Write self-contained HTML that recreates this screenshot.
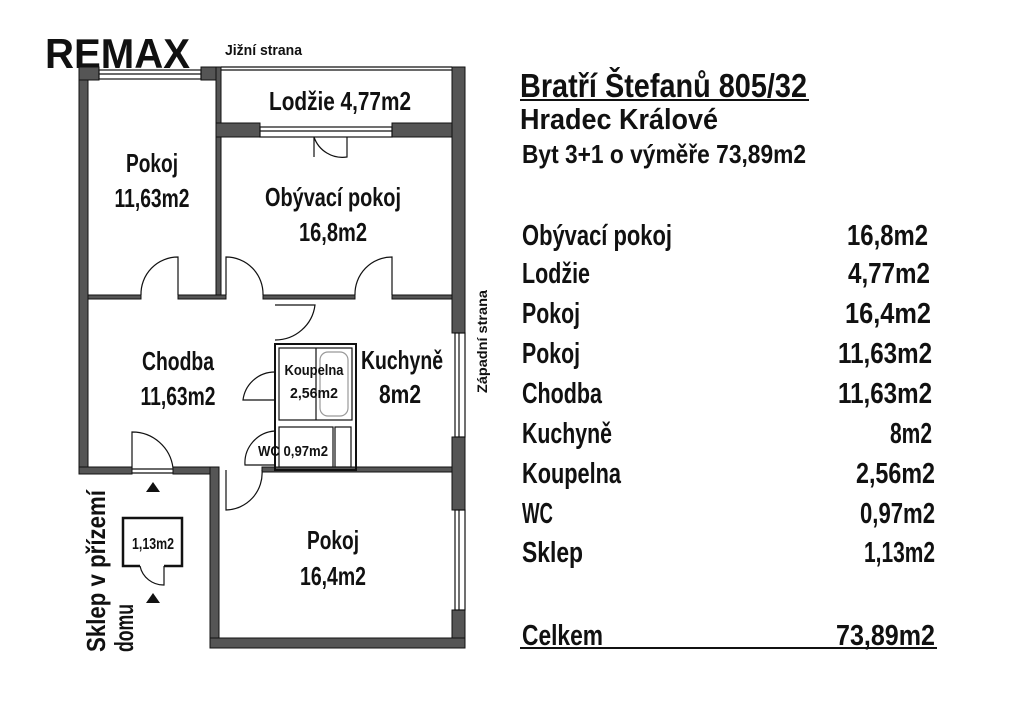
<!DOCTYPE html>
<html><head><meta charset="utf-8"><style>
html,body{margin:0;padding:0;background:#fff}
svg{display:block}
text{font-family:"Liberation Sans",sans-serif;font-weight:bold;fill:#111}
</style></head><body>
<svg width="1020" height="713" viewBox="0 0 1020 713" xmlns="http://www.w3.org/2000/svg">
<!-- logo -->
<text x="45" y="68" font-size="42" textLength="145" lengthAdjust="spacingAndGlyphs" font-weight="900">REMAX</text>
<text x="225" y="55" font-size="15" textLength="77" lengthAdjust="spacingAndGlyphs" font-weight="normal">Jižní strana</text>

<g fill="#555" stroke="#111" stroke-width="1">
<!-- outer left wall -->
<rect x="79" y="67" width="9" height="407"/>
<!-- top wall segments -->
<rect x="79" y="67" width="20" height="13"/>
<rect x="201" y="67" width="20" height="13"/>
<!-- partition between pokoj and lodzie/obyvaci -->
<rect x="216" y="67" width="5" height="232"/>
<!-- lodzie bottom wall -->
<rect x="216" y="123" width="44" height="14"/>
<rect x="392" y="123" width="73" height="14"/>
<!-- right wall -->
<rect x="452" y="67" width="13" height="266"/>
<rect x="452" y="437" width="13" height="73"/>
<rect x="452" y="610" width="13" height="38"/>
<!-- horizontal wall y295 -->
<rect x="88" y="295" width="53" height="4"/>
<rect x="178" y="295" width="48" height="4"/>
<rect x="263" y="295" width="92" height="4"/>
<rect x="392" y="295" width="60" height="4"/>
<!-- chodba bottom wall -->
<rect x="79" y="467" width="53" height="7"/>
<rect x="173" y="467" width="46" height="7"/>
<!-- pokoj 16.4 walls -->
<rect x="210" y="467" width="9" height="181"/>
<rect x="210" y="638" width="255" height="10"/>
<rect x="262" y="467" width="190" height="5"/>
</g>
<g fill="none" stroke="#111" stroke-width="1.2">
<!-- lodzie thin outline -->
<path d="M221 67 H452 M221 70 H452"/>
<!-- windows -->
<rect x="99" y="70" width="102" height="9"/><path d="M99 74 H201"/>
<rect x="260" y="127" width="132" height="10"/><path d="M260 131 H392"/>
<rect x="455" y="333" width="10" height="104"/><path d="M459 333 V437"/>
<rect x="455" y="510" width="10" height="100"/><path d="M459 510 V610"/>
<!-- lodzie door -->
<path d="M314 137 V157 M314 137 A30 30 0 0 0 347 157 V137"/>
<!-- doors row -->
<path d="M178 295 V257 A37 37 0 0 0 141 295"/>
<path d="M226 295 V257 A37 37 0 0 1 263 295"/>
<path d="M392 295 V257 A37 37 0 0 0 355 295"/>
<path d="M275 305 H315 A40 40 0 0 1 275 340"/>
<!-- bathroom -->
<rect x="275" y="344" width="81" height="126" stroke-width="2"/>
<rect x="279" y="348" width="73" height="72"/>
<path d="M316 348 V420"/>
<rect x="320" y="352" width="28" height="64" rx="8" stroke="#999"/>
<rect x="279" y="427" width="54" height="40"/>
<rect x="335" y="427" width="16" height="40"/>
<path d="M275 372 A32 32 0 0 0 243 400 H275"/>
<path d="M275 431 A32 32 0 0 0 245 465 H275"/>
<!-- door to pokoj 16.4 -->
<path d="M226 470 V510 A37 37 0 0 0 262 470"/>
<!-- chodba entry door -->
<path d="M132 468 V432 A41 41 0 0 1 173 468"/>
<path d="M132 469 H173 M132 473 H173"/>
<!-- sklep -->
<path d="M140 566 H123 V518 H182 V566 H164" stroke-width="2.5"/>
<path d="M164 566 V585 A24 24 0 0 1 140 566"/>
</g>
<path d="M146 492 L153 482 L160 492 Z M146 603 L153 593 L160 603 Z" fill="#111"/>

<!-- plan labels -->
<g text-anchor="middle" font-weight="bold">
<text x="340" y="110" font-size="26" textLength="142" lengthAdjust="spacingAndGlyphs">Lodžie 4,77m2</text>
<text x="152" y="172" font-size="26" textLength="52" lengthAdjust="spacingAndGlyphs">Pokoj</text>
<text x="152" y="207" font-size="26" textLength="75" lengthAdjust="spacingAndGlyphs">11,63m2</text>
<text x="333" y="206" font-size="26" textLength="136" lengthAdjust="spacingAndGlyphs">Obývací pokoj</text>
<text x="333" y="241" font-size="26" textLength="68" lengthAdjust="spacingAndGlyphs">16,8m2</text>
<text x="178" y="370" font-size="26" textLength="72" lengthAdjust="spacingAndGlyphs">Chodba</text>
<text x="178" y="405" font-size="26" textLength="75" lengthAdjust="spacingAndGlyphs">11,63m2</text>
<text x="402" y="369" font-size="26" textLength="82" lengthAdjust="spacingAndGlyphs">Kuchyně</text>
<text x="400" y="403" font-size="26" textLength="42" lengthAdjust="spacingAndGlyphs">8m2</text>
<text x="314" y="375" font-size="15" textLength="59" lengthAdjust="spacingAndGlyphs">Koupelna</text>
<text x="314" y="398" font-size="15" textLength="48" lengthAdjust="spacingAndGlyphs">2,56m2</text>
<text x="293" y="456" font-size="15" textLength="70" lengthAdjust="spacingAndGlyphs">WC 0,97m2</text>
<text x="333" y="549" font-size="26" textLength="52" lengthAdjust="spacingAndGlyphs">Pokoj</text>
<text x="333" y="585" font-size="26" textLength="66" lengthAdjust="spacingAndGlyphs">16,4m2</text>
<text x="153" y="549" font-size="16" textLength="42" lengthAdjust="spacingAndGlyphs">1,13m2</text>
</g>
<text transform="translate(105,652) rotate(-90)" font-size="26" textLength="162" lengthAdjust="spacingAndGlyphs">Sklep v přízemí</text>
<text transform="translate(133,652) rotate(-90)" font-size="26" textLength="48" lengthAdjust="spacingAndGlyphs">domu</text>
<text transform="translate(487,393) rotate(-90)" font-size="14" textLength="103" lengthAdjust="spacingAndGlyphs" font-weight="normal">Západní strana</text>

<!-- right text -->
<text x="520" y="97" font-size="33" textLength="287" lengthAdjust="spacingAndGlyphs">Bratří Štefanů 805/32</text>
<rect x="520" y="99" width="289" height="2" fill="#111"/>
<text x="520" y="129" font-size="29" textLength="198" lengthAdjust="spacingAndGlyphs">Hradec Králové</text>
<text x="522" y="163" font-size="26" textLength="284" lengthAdjust="spacingAndGlyphs">Byt 3+1 o výměře 73,89m2</text>

<g font-size="29">
<text x="522" y="245" textLength="150" lengthAdjust="spacingAndGlyphs">Obývací pokoj</text>
<text x="522" y="283" textLength="68" lengthAdjust="spacingAndGlyphs">Lodžie</text>
<text x="522" y="323" textLength="58" lengthAdjust="spacingAndGlyphs">Pokoj</text>
<text x="522" y="363" textLength="58" lengthAdjust="spacingAndGlyphs">Pokoj</text>
<text x="522" y="403" textLength="80" lengthAdjust="spacingAndGlyphs">Chodba</text>
<text x="522" y="443" textLength="90" lengthAdjust="spacingAndGlyphs">Kuchyně</text>
<text x="522" y="483" textLength="99" lengthAdjust="spacingAndGlyphs">Koupelna</text>
<text x="522" y="523" textLength="31" lengthAdjust="spacingAndGlyphs">WC</text>
<text x="522" y="562" textLength="61" lengthAdjust="spacingAndGlyphs">Sklep</text>
<text x="522" y="645" textLength="81" lengthAdjust="spacingAndGlyphs">Celkem</text>
<text x="847" y="245" textLength="81" lengthAdjust="spacingAndGlyphs">16,8m2</text>
<text x="848" y="283" textLength="82" lengthAdjust="spacingAndGlyphs">4,77m2</text>
<text x="845" y="323" textLength="86" lengthAdjust="spacingAndGlyphs">16,4m2</text>
<text x="838" y="363" textLength="94" lengthAdjust="spacingAndGlyphs">11,63m2</text>
<text x="838" y="403" textLength="94" lengthAdjust="spacingAndGlyphs">11,63m2</text>
<text x="890" y="443" textLength="42" lengthAdjust="spacingAndGlyphs">8m2</text>
<text x="856" y="483" textLength="79" lengthAdjust="spacingAndGlyphs">2,56m2</text>
<text x="860" y="523" textLength="75" lengthAdjust="spacingAndGlyphs">0,97m2</text>
<text x="864" y="562" textLength="71" lengthAdjust="spacingAndGlyphs">1,13m2</text>
<text x="836" y="645" textLength="99" lengthAdjust="spacingAndGlyphs">73,89m2</text>
</g>
<rect x="520" y="647" width="417" height="2" fill="#111"/>
</svg>
</body></html>
